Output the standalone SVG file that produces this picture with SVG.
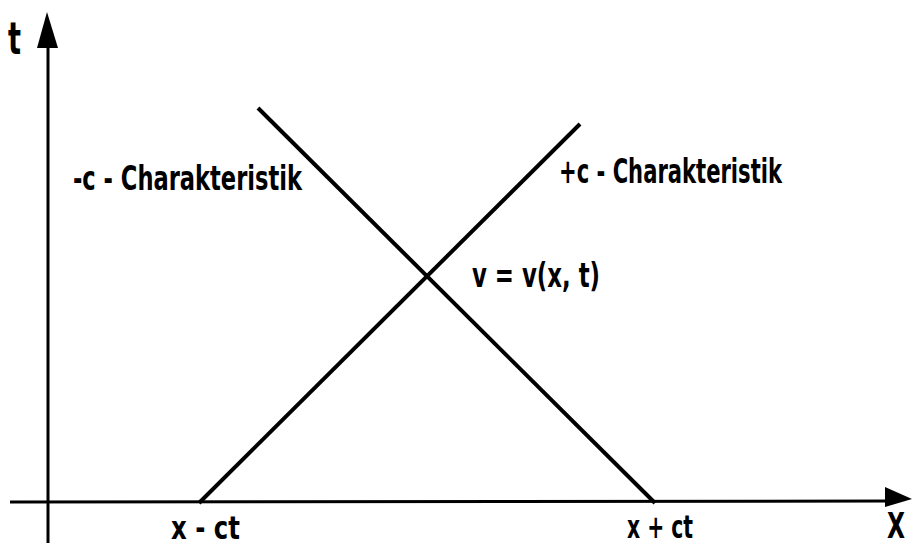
<svg xmlns="http://www.w3.org/2000/svg" width="913" height="547" viewBox="0 0 913 547">
<style>
.ax{stroke:#000;stroke-width:3;fill:none}
.ln{stroke:#000;stroke-width:4;fill:none}
.t{font-family:"DejaVu Sans Condensed","Liberation Sans",sans-serif;font-weight:bold;fill:#000}
</style>
<rect width="913" height="547" fill="#fff"/>
<g id="axes">
<line class="ax" x1="48" y1="40" x2="48" y2="543"/>
<polygon points="47,12 37,48 58,48" fill="#000"/>
<line class="ax" x1="10" y1="502" x2="890" y2="501"/>
<polygon points="912,499 885,487 885,507" fill="#000"/>
</g>
<g id="connectors">
<line id="plus-c" class="ln" x1="199" y1="503" x2="580" y2="124"/>
<line id="minus-c" class="ln" x1="258" y1="108" x2="655" y2="503"/>
</g>
<g id="labels">
<text class="t" x="8" y="54" font-size="44" textLength="13" lengthAdjust="spacingAndGlyphs">t</text>
<text class="t" x="73" y="190" font-size="34" textLength="229" lengthAdjust="spacingAndGlyphs">-c - Charakteristik</text>
<text class="t" x="559" y="183" font-size="34" textLength="223" lengthAdjust="spacingAndGlyphs">+c - Charakteristik</text>
<text class="t" x="472" y="287" font-size="34" textLength="128" lengthAdjust="spacingAndGlyphs">v = v(x, t)</text>
<text class="t" x="171" y="539" font-size="32" textLength="69" lengthAdjust="spacingAndGlyphs">x - ct</text>
<text class="t" x="627" y="538" font-size="32" textLength="66" lengthAdjust="spacingAndGlyphs">x + ct</text>
<text class="t" x="887" y="538" font-size="36" textLength="18" lengthAdjust="spacingAndGlyphs">X</text>
</g>
</svg>
